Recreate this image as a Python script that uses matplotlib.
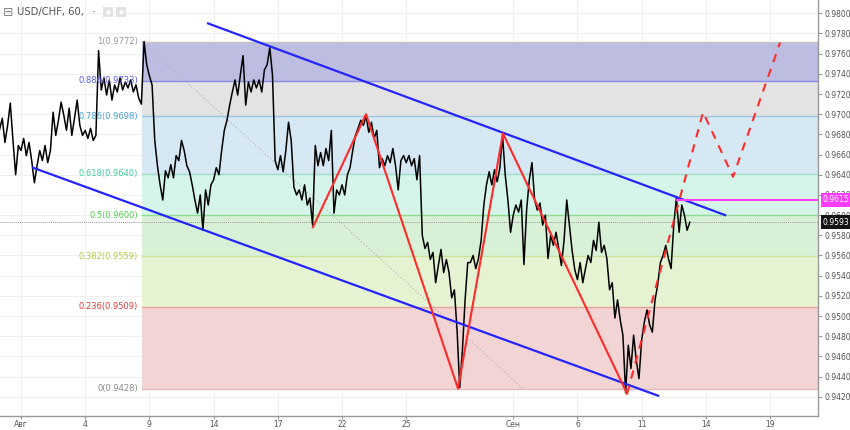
import numpy as np
import matplotlib
matplotlib.use("Agg")
import matplotlib.pyplot as plt
from matplotlib.patches import FancyBboxPatch

# eje x en dias de mercado desde el 1 de agosto (0 = Авг)
tick_dias = [0, 3, 6, 9, 12, 15, 18, 23, 26, 29, 32, 35]
tick_txt = ['Авг', '4', '9', '14', '17', '22', '25', 'Сен', '6', '11', '14', '19']

# cierres cada 3 horas (8 por dia), empezando el dia -1
cierre = [
    0.9685, 0.9696, 0.9672, 0.9689, 0.9711, 0.9674, 0.9640, 0.9669,
    0.9664, 0.9676, 0.9659, 0.9672, 0.9654, 0.9632, 0.9649, 0.9664,
    0.9654, 0.9669, 0.9652, 0.9664, 0.9702, 0.9679, 0.9694, 0.9712,
    0.9699, 0.9684, 0.9706, 0.9679, 0.9696, 0.9714, 0.9689, 0.9679,
    0.9684, 0.9676, 0.9686, 0.9674, 0.9679, 0.9763, 0.9724, 0.9736,
    0.9719, 0.9734, 0.9714, 0.9729, 0.9722, 0.9736, 0.9724, 0.9732,
    0.9726, 0.9734, 0.9722, 0.9729, 0.9716, 0.9710, 0.9772, 0.9749,
    0.9738, 0.9729, 0.9674, 0.9649, 0.9630, 0.9615, 0.9644, 0.9637,
    0.9650, 0.9637, 0.9659, 0.9654, 0.9674, 0.9664, 0.9649, 0.9643,
    0.9630, 0.9615, 0.9602, 0.9620, 0.9585, 0.9625, 0.9610, 0.9630,
    0.9635, 0.9647, 0.9640, 0.9664, 0.9684, 0.9694, 0.9709, 0.9722,
    0.9734, 0.9719, 0.9739, 0.9758, 0.9709, 0.9732, 0.9722, 0.9734,
    0.9726, 0.9734, 0.9722, 0.9744, 0.9749, 0.9766, 0.9739, 0.9654,
    0.9645, 0.9659, 0.9643, 0.9664, 0.9692, 0.9674, 0.9628, 0.9620,
    0.9625, 0.9615, 0.9630, 0.9610, 0.9617, 0.9590, 0.9669, 0.9649,
    0.9662, 0.9649, 0.9666, 0.9654, 0.9684, 0.9602, 0.9625, 0.9620,
    0.9630, 0.9620, 0.9640, 0.9647, 0.9664, 0.9679, 0.9686, 0.9694,
    0.9689, 0.9698, 0.9682, 0.9692, 0.9676, 0.9684, 0.9647, 0.9656,
    0.9649, 0.9659, 0.9652, 0.9666, 0.9649, 0.9625, 0.9654, 0.9659,
    0.9652, 0.9659, 0.9649, 0.9656, 0.9635, 0.9659, 0.9580, 0.9567,
    0.9573, 0.9556, 0.9563, 0.9533, 0.9550, 0.9566, 0.9543, 0.9556,
    0.9543, 0.9518, 0.9526, 0.9486, 0.9429, 0.9466, 0.9516, 0.9553,
    0.9553, 0.9560, 0.9547, 0.9557, 0.9575, 0.9610, 0.9630, 0.9643,
    0.9630, 0.9645, 0.9633, 0.9647, 0.9679, 0.9640, 0.9615, 0.9583,
    0.9600, 0.9610, 0.9603, 0.9615, 0.9551, 0.9605, 0.9635, 0.9652,
    0.9615, 0.9605, 0.9612, 0.9590, 0.9600, 0.9557, 0.9580, 0.9570,
    0.9583, 0.9567, 0.9550, 0.9575, 0.9615, 0.9590, 0.9565, 0.9546,
    0.9536, 0.9553, 0.9533, 0.9547, 0.9560, 0.9553, 0.9575, 0.9565,
    0.9593, 0.9563, 0.9570, 0.9557, 0.9526, 0.9533, 0.9498, 0.9516,
    0.9496, 0.9481, 0.9424, 0.9471, 0.9448, 0.9481, 0.9456, 0.9438,
    0.9476, 0.9494, 0.9506, 0.9491, 0.9484, 0.9516, 0.9531, 0.9553,
    0.9560, 0.9570, 0.9557, 0.9547, 0.9590, 0.9617, 0.9583, 0.9610,
    0.9600, 0.9585, 0.9593,
]
t_cierre = np.arange(len(cierre)) / 8.0 - 1

# niveles de fibonacci
fib_ratio = [1, 0.886, 0.786, 0.618, 0.5, 0.382, 0.236, 0]
fib_precio = [0.9772, 0.9733, 0.9698, 0.9641, 0.9600, 0.9559, 0.9509, 0.9428]
fib_texto = ['1(0.9772)', '0.886(0.9733)', '0.786(0.9698)', '0.618(0.9640)',
             '0.5(0.9600)', '0.382(0.9559)', '0.236(0.9509)', '0(0.9428)']
fib_t0 = 5.65
fib_diag_t = [5.65, 23.46]
fib_diag_p = [0.9772, 0.9428]

# canal
sup_t = [8.74, 32.9]
sup_p = [0.9790, 0.9600]
inf_t = [0.56, 29.77]
inf_p = [0.9647, 0.9421]

# zigzag y proyeccion
zz_t = [13.64, 16.12, 20.42, 22.52, 28.32]
zz_p = [0.9588, 0.9700, 0.9428, 0.9681, 0.9423]
proy_t = [28.32, 31.87, 33.27, 35.47]
proy_p = [0.9423, 0.9702, 0.9638, 0.9771]

nivel_t0 = 30.65
nivel = 0.9615
ultimo = 0.9593

# colores
banda_col = ['#bdbde2', '#e3e3e3', '#d5e8f3', '#d5f5ea', '#d8f1d6', '#e6f3d3', '#f2d4d4']
linea_col = ['#c4c4c4', '#8a8ae6', '#9cc6df', '#a0dcc8', '#8fdc8f', '#c8e49a', '#e6a49a', '#e0bcbc']
texto_col = ['#9a9a9a', '#5a5af0', '#4aa3d6', '#3ccf9c', '#4ccf4c', '#a8cc44', '#e03a3a', '#8a8a8a']

xmin, xmax = -0.981, 37.24
ymin, ymax = 0.94009, 0.98132

fig = plt.figure(figsize=(8.5, 4.3), dpi=100)
ax = fig.add_axes([0, 14 / 430, 818 / 850, 416 / 430])
ax.set_xlim(xmin, xmax)
ax.set_ylim(ymin, ymax)

# bandas fib
for i in range(len(fib_precio) - 1):
    ax.fill_between([fib_t0, xmax], fib_precio[i + 1], fib_precio[i],
                    color=banda_col[i], lw=0, zorder=1)
for i in range(len(fib_precio)):
    ax.plot([fib_t0, xmax], [fib_precio[i], fib_precio[i]], color=linea_col[i], lw=1, zorder=2)
    ax.text(5.47, fib_precio[i], fib_texto[i], ha='right', va='center',
            fontsize=6, color=texto_col[i], zorder=6)
ax.plot(fib_diag_t, fib_diag_p, color='#b0b0b0', lw=0.8, ls=(0, (1, 2)), zorder=2)

# precio actual
ax.axhline(ultimo, color='#9a9a9a', lw=0.7, ls=(0, (1, 1)), zorder=2)

# serie
ax.plot(t_cierre, cierre, color='black', lw=1.1, zorder=4)

# canal y zigzag
ax.plot(sup_t, sup_p, color='#2424ff', lw=1.6, zorder=5)
ax.plot(inf_t, inf_p, color='#2424ff', lw=1.6, zorder=5)
ax.plot(zz_t, zz_p, color='#ff2a2a', lw=1.5, zorder=5)
ax.plot(proy_t, proy_p, color='#ff2a2a', lw=1.5, ls=(0, (4, 3.5)), zorder=5)
ax.plot([nivel_t0, xmax], [nivel, nivel], color='#ff3cff', lw=1.5, zorder=5)

# ejes
ax.set_xticks(tick_dias)
ax.set_xticklabels(tick_txt)
ax.set_yticks(np.arange(0.942, 0.9801, 0.002))
ax.yaxis.tick_right()
ax.yaxis.set_major_formatter(matplotlib.ticker.FormatStrFormatter('%.4f'))
ax.tick_params(axis='both', direction='out', length=3, width=0.8, color='#999999',
               labelsize=5.5, labelcolor='#555555', pad=2)
ax.tick_params(axis='x', pad=0.5, length=2.5)
ax.grid(True, color='#ececec', lw=0.6, zorder=0)
ax.set_axisbelow(True)
for s in ['left', 'top']:
    ax.spines[s].set_visible(False)
for s in ['right', 'bottom']:
    ax.spines[s].set_color('#999999')
    ax.spines[s].set_linewidth(1.0)

# etiquetas de precio a la derecha
tr = ax.get_yaxis_transform()
ax.text(1.006, nivel, '0.9615', transform=tr, ha='left', va='center', fontsize=5.5,
        color='white', clip_on=False, zorder=10,
        bbox=dict(boxstyle='square,pad=0.3', fc='#ff3cff', ec='none'))
ax.text(1.006, ultimo, '0.9593', transform=tr, ha='left', va='center', fontsize=5.5,
        color='white', clip_on=False, zorder=10,
        bbox=dict(boxstyle='square,pad=0.3', fc='#141414', ec='none'))

# titulo
fig.text(3 / 850, 1 - 12 / 430, '⊟', fontsize=9, color='#888888', va='center')
fig.text(17 / 850, 1 - 12 / 430, 'USD/CHF, 60,', fontsize=7.2, color='#555555', va='center')
fig.text(92 / 850, 1 - 11 / 430, '-', fontsize=7, color='#aaaaaa', va='center')
for x0 in [103, 116]:
    fig.patches.append(FancyBboxPatch((x0 / 850, 1 - 17 / 430), 10 / 850, 10 / 430,
                                      boxstyle='round,pad=0', fc='#e2e2e2', ec='none',
                                      transform=fig.transFigure, figure=fig))
    fig.text((x0 + 5) / 850, 1 - 12 / 430, '●', fontsize=4, color='white', ha='center', va='center')

plt.savefig('out.png', dpi=100)
